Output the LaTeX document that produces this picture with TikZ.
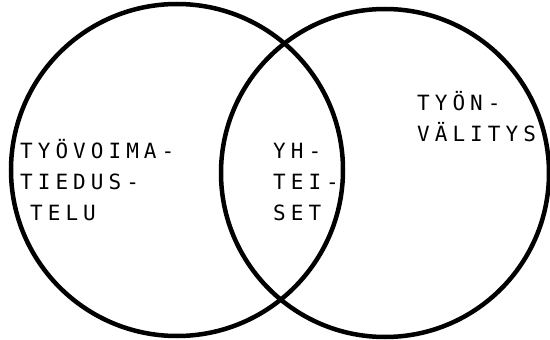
\documentclass[tikz,border=0pt]{standalone}
\usepackage{fontspec}
\newfontfamily\printfont[LetterSpace=24]{DejaVu Sans Mono}
\tikzset{
  ring/.style={draw, circle, line width=4.5pt, inner sep=0pt},
  venntext/.style={anchor=base west, inner sep=0pt, align=left,
    font=\printfont\fontsize{21}{31}\selectfont}
}
\begin{document}
\begin{tikzpicture}[x=1pt,y=-1pt]
\useasboundingbox (0,0) rectangle (550,340);
\node[ring, minimum size=332pt] (tiedustelu) at (177,170) {};
\node[ring, minimum size=328pt] (valitys) at (385,173) {};
% base = last line
\node[venntext] (vasen) at (20,220) {TYÖVOIMA-\\TIEDUS-\\\hspace{10pt}TELU};
\node[venntext] (yhteiset) at (273,220) {YH-\\TEI-\\SET};
\node[venntext] (oikea) at (417,141) {TYÖN-\\VÄLITYS};
\end{tikzpicture}
\end{document}
